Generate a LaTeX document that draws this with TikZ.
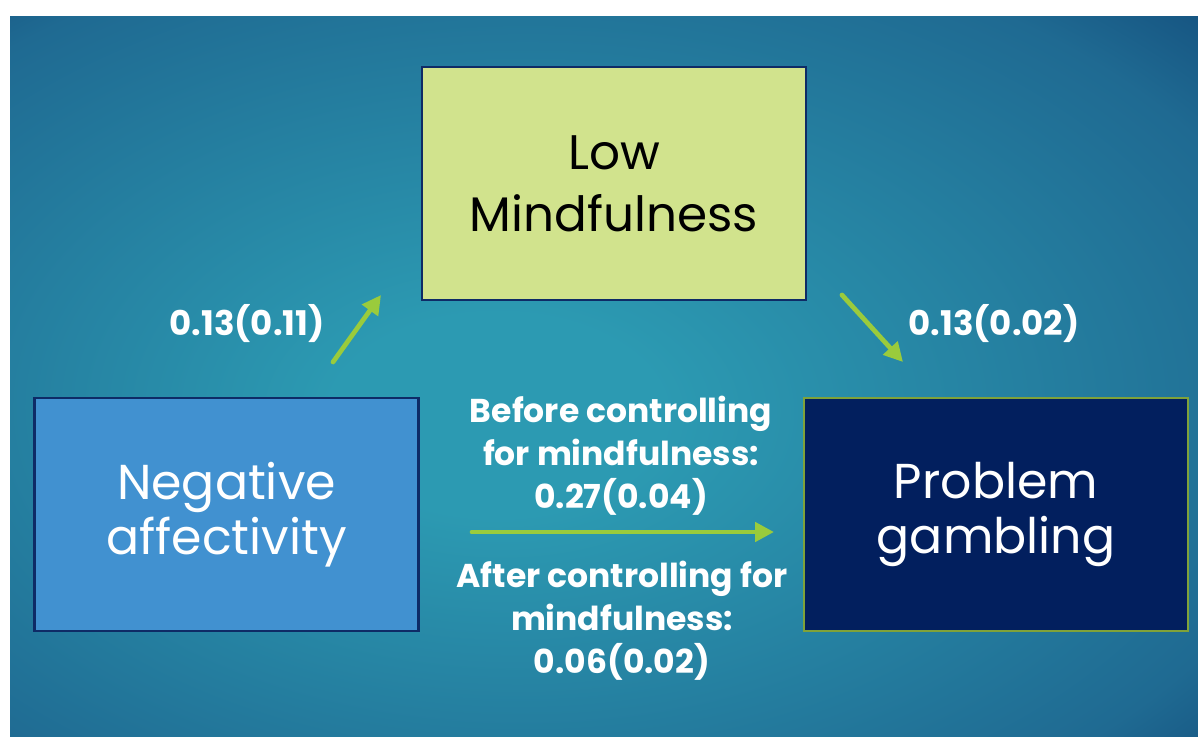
\documentclass[tikz,border=0pt]{standalone}
\usepackage{fontspec}
\setmainfont{Poppins}[Numbers=Monospaced]
\usepackage{tikz}
\usetikzlibrary{arrows.meta,positioning}

\definecolor{bgin}{HTML}{2C9AB2}
\definecolor{bgmid}{HTML}{1F6A92}
\definecolor{bgout}{HTML}{0B3A6D}
\definecolor{mindfill}{HTML}{D1E38D}
\definecolor{negfill}{HTML}{4191D0}
\definecolor{gambfill}{HTML}{021F5E}
\definecolor{boxline}{HTML}{0E2B66}
\definecolor{arrowgreen}{HTML}{9ACB3C}
\definecolor{gambline}{HTML}{7FA23A}

\pgfdeclareradialshading{bgglow}{\pgfpoint{-5bp}{-3bp}}{color(0bp)=(bgin); color(7bp)=(bgin); color(33bp)=(bgmid); color(45bp)=(bgout); color(72bp)=(bgout)}

\begin{document}
\begin{tikzpicture}[x=1pt,y=-1pt]
		\tikzset{varbox/.style={rectangle,draw=boxline,line width=2.4pt,minimum width=384pt,minimum height=233pt,align=center,inner sep=0pt}}
		\tikzset{pathline/.style={draw=arrowgreen,line width=4.7pt,line cap=round,-{Triangle[length=19pt,width=19pt]}}}
		\tikzset{coef/.style={text=white,align=center,font=\bfseries\fontsize{33}{43}\selectfont,inner sep=0pt}}
		\useasboundingbox (0,0) rectangle (1198,736);
		\fill[white] (0,0) rectangle (1198,736);
		\shade[shading=bgglow] (10,16) rectangle (1198,736);
		% the three boxes
		\node[varbox,fill=mindfill,text=black,font=\fontsize{48.5}{62}\selectfont] (mind) at (614,183.5) {Low\\Mindfulness};
		\node[varbox,fill=negfill,text=white,font=\fontsize{49}{55}\selectfont] (neg) at (226.5,514.5) {Negative\\affectivity};
		\node[varbox,fill=gambfill,draw=gambline,text=white,font=\fontsize{49}{55}\selectfont] (gamb) at (996,514.5) {Problem\\gambling};
		% arrow ends
		\coordinate (negtail) at (333,362);
		\coordinate (mindhead) at (381,295);
		\coordinate (mindtail) at (842,295);
		\coordinate (gambhead) at (903,362);
		\coordinate (directtail) at (472,532);
		\coordinate (directhead) at (774,532);
		\draw[pathline] (negtail) -- (mindhead);
		\draw[pathline] (mindtail) -- (gambhead);
		\draw[pathline] (directtail) -- (directhead);
		% coefficients
		\node[coef,font=\bfseries\fontsize{34}{43}\selectfont] (apath) at (247,324) {0.13(0.11)};
		\node[coef,font=\bfseries\fontsize{34}{43}\selectfont] (bpath) at (994,324) {0.13(0.02)};
		\node[coef,above=16pt of directtail,xshift=149pt] (ctotal) {Before controlling\\for mindfulness:\\0.27(0.04)};
		\node[coef,below=29pt of directtail,xshift=150pt] (cdirect) {After controlling for\\mindfulness:\\0.06(0.02)};
\end{tikzpicture}
\end{document}
